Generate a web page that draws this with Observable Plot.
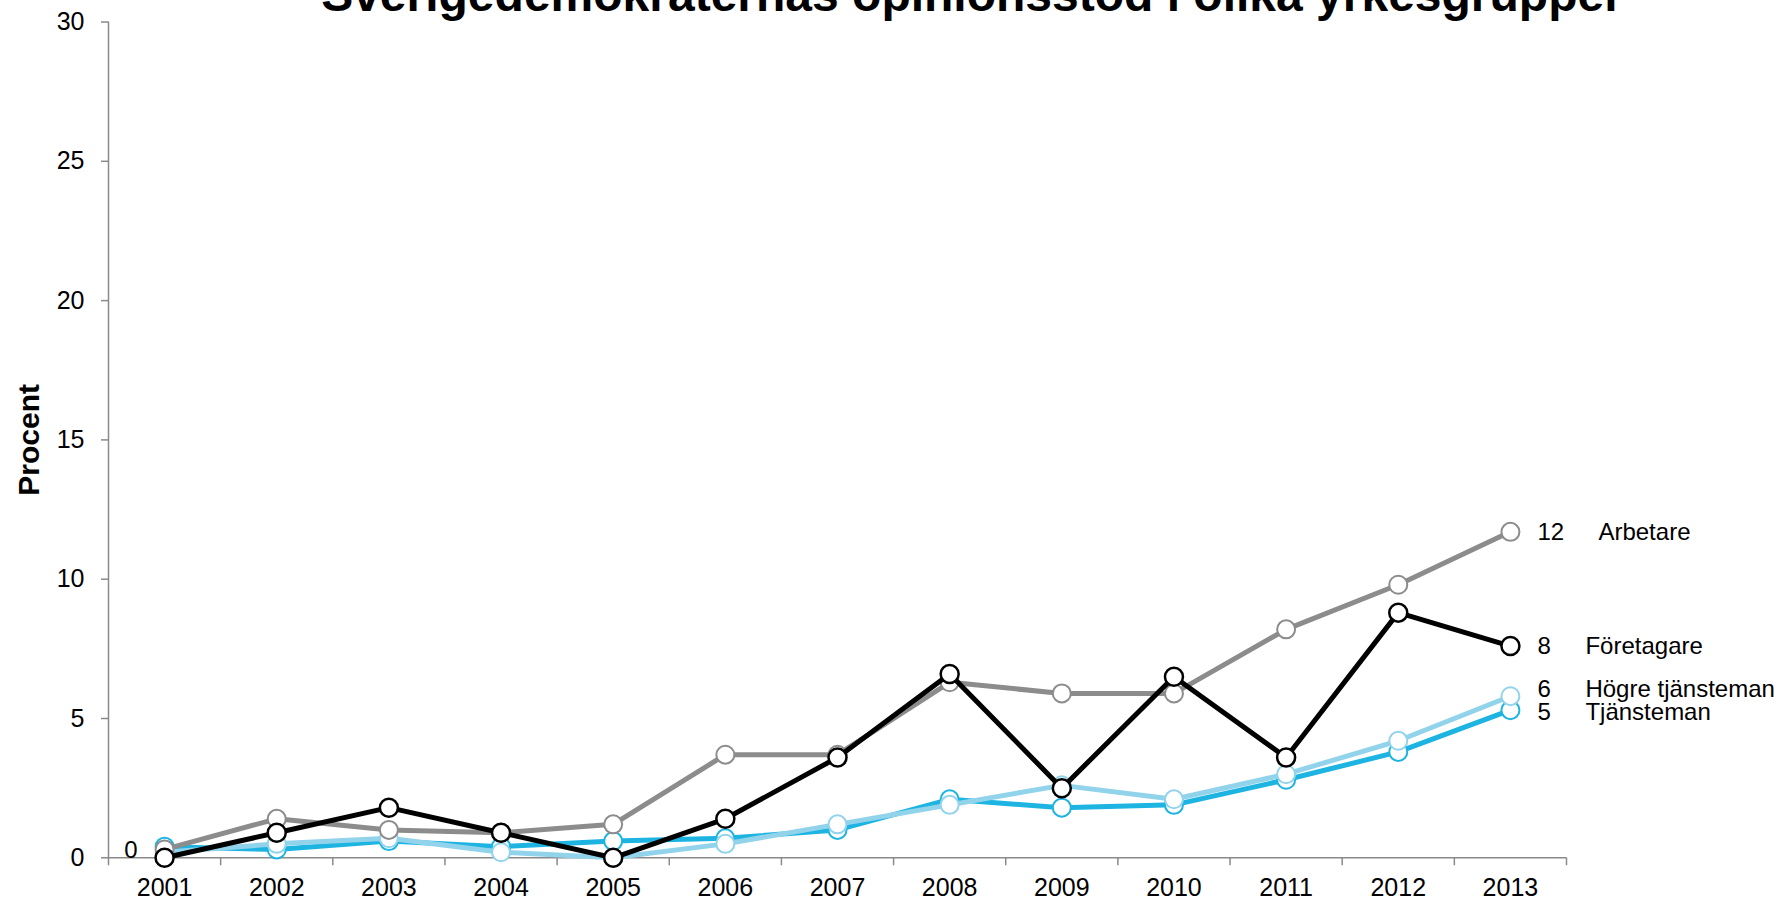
<!DOCTYPE html>
<html>
<head>
<meta charset="utf-8">
<script src="https://cdn.jsdelivr.net/npm/d3@7"></script>
<script src="https://cdn.jsdelivr.net/npm/@observablehq/plot@0.6"></script>
<style>
  html, body { margin: 0; padding: 0; background: white; overflow: hidden; }
  #wrap { position: relative; width: 1778px; height: 903px; }
  #title {
    position: absolute; top: -29px; left: 972px; transform: translateX(-50%);
    font-family: "Liberation Sans", Arial, sans-serif; font-weight: bold;
    font-size: 48px; line-height: 48px; white-space: nowrap; color: #000; z-index: 2;
  }
  #chart { position: absolute; top: 0; left: 0; }
</style>
</head>
<body>
<div id="wrap">
  <div id="title">Sverigedemokraternas opinionsstöd i olika yrkesgrupper</div>
  <div id="chart"></div>
</div>
<script>
// ---- data ----
const years = [2001, 2002, 2003, 2004, 2005, 2006, 2007, 2008, 2009, 2010, 2011, 2012, 2013];
const seriesNames = ["Tjänsteman", "Högre tjänsteman", "Arbetare", "Företagare"];
const tjansteman      = [0.4, 0.3, 0.6, 0.4, 0.6, 0.7, 1.0, 2.1, 1.8, 1.9, 2.8, 3.8, 5.3];
const hogreTjansteman = [0.2, 0.5, 0.7, 0.2, 0.0, 0.5, 1.2, 1.9, 2.6, 2.1, 3.0, 4.2, 5.8];
const arbetare        = [0.3, 1.4, 1.0, 0.9, 1.2, 3.7, 3.7, 6.3, 5.9, 5.9, 8.2, 9.8, 11.7];
const foretagare      = [0.0, 0.9, 1.8, 0.9, 0.0, 1.4, 3.6, 6.6, 2.5, 6.5, 3.6, 8.8, 7.6];
const yTicks = [0, 5, 10, 15, 20, 25, 30];
const yLabel = "Procent";

// ---- styles ----
const colors = {
  "Tjänsteman": "#1db4e2",
  "Högre tjänsteman": "#92d3ec",
  "Arbetare": "#8c8c8c",
  "Företagare": "#000000"
};
const labelDy = { "Tjänsteman": 2, "Högre tjänsteman": -7, "Arbetare": 0, "Företagare": 0 };
const nameDx = { "Tjänsteman": 75, "Högre tjänsteman": 75, "Arbetare": 88, "Företagare": 75 };
const valuesBy = {
  "Tjänsteman": tjansteman,
  "Högre tjänsteman": hogreTjansteman,
  "Arbetare": arbetare,
  "Företagare": foretagare
};

const rows = seriesNames.flatMap(s => years.map((yr, i) => ({series: s, year: yr, value: valuesBy[s][i]})));
const boundaries = [years[0] - 0.5, ...years.map(y => y + 0.5)];

const marks = [];
// axes
marks.push(Plot.ruleX([boundaries[0]], {y1: 0, y2: yTicks[yTicks.length - 1], stroke: "#8a8a8a", strokeWidth: 1.5}));
marks.push(Plot.axisY(yTicks, {tickSize: 7, tickPadding: 17, stroke: "#8a8a8a", strokeWidth: 1.5, fill: "#000", fontSize: 25, label: null, tickFormat: d => String(d)}));
marks.push(Plot.ruleY([0], {x1: boundaries[0], x2: boundaries[boundaries.length - 1], stroke: "#8a8a8a", strokeWidth: 1.5}));
marks.push(Plot.axisX(boundaries, {tickSize: 8, stroke: "#8a8a8a", strokeWidth: 1.5, text: null, label: null}));
marks.push(Plot.axisX(years, {tickSize: 0, tickPadding: 20, fill: "#000", fontSize: 25, label: null, tickFormat: d => String(d)}));
marks.push(Plot.text([yLabel], {frameAnchor: "left", textAnchor: "middle", dx: -79, rotate: -90, fontSize: 30, fontWeight: "bold", fill: "#000"}));

// series
for (const s of seriesNames) {
  const d = rows.filter(r => r.series === s);
  marks.push(Plot.line(d, {x: "year", y: "value", stroke: colors[s], strokeWidth: 5, strokeLinejoin: "miter"}));
  marks.push(Plot.dot(d, {x: "year", y: "value", r: 9, fill: "white", stroke: colors[s], strokeWidth: s === "Företagare" ? 2.5 : 2}));
}
// end labels
for (const s of seriesNames) {
  const last = rows.filter(r => r.series === s).slice(-1);
  marks.push(Plot.text(last, {x: "year", y: "value", text: d => String(Math.round(d.value)), dx: 27, dy: labelDy[s], textAnchor: "start", fontSize: 24, fill: "#000"}));
  marks.push(Plot.text(last, {x: "year", y: "value", text: () => s, dx: nameDx[s], dy: labelDy[s], textAnchor: "start", fontSize: 24, fill: "#000"}));
}
// start label
const first = rows.filter(r => r.series === "Företagare").slice(0, 1);
marks.push(Plot.text(first, {x: "year", y: "value", text: d => String(Math.round(d.value)), dx: -27, dy: -7, textAnchor: "end", fontSize: 24, fill: "#000"}));

const chart = Plot.plot({
  width: 1778,
  height: 903,
  marginLeft: 108,
  marginRight: 212,
  marginTop: 21.5,
  marginBottom: 45.7,
  x: {type: "linear", domain: [boundaries[0], boundaries[boundaries.length - 1]], axis: null},
  y: {domain: [0, 30], axis: null},
  style: {fontFamily: "'Liberation Sans', Arial, sans-serif", background: "white", color: "#000", overflow: "visible"},
  marks
});
document.getElementById("chart").appendChild(chart);
</script>
</body>
</html>
